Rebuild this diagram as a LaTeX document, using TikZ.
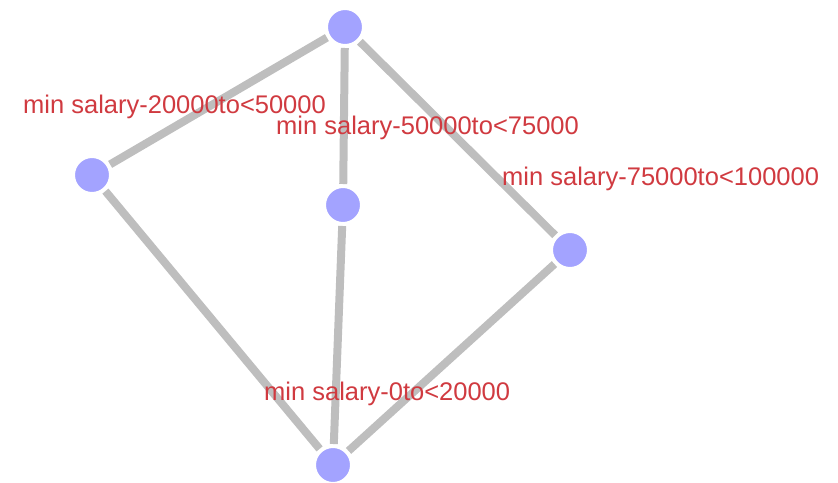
\documentclass[tikz,border=0pt]{standalone}
\usepackage{fontspec}
\setmainfont{Liberation Sans}
\usepackage{xcolor}
\definecolor{vertexblue}{RGB}{163,163,255}
\definecolor{linkgray}{RGB}{190,190,190}
\definecolor{tagred}{RGB}{208,58,64}

\begin{document}
\begin{tikzpicture}[
    x=1pt, y=-1pt,
    vertex/.style={circle, fill=vertexblue, draw=white, line width=4pt, inner sep=0pt, minimum size=38pt},
    link/.style={draw=linkgray, line width=8pt},
    tag/.style={anchor=base west, inner sep=0pt, text=tagred, font=\fontsize{25.5}{30}\selectfont}
]
  \useasboundingbox (0,0) rectangle (838,482);

  % --- VERTICES ---
  \node[vertex] (top) at (345,27) {};
  \node[vertex] (left) at (92,175) {};
  \node[vertex] (mid) at (343,205) {};
  \node[vertex] (right) at (570,250) {};
  \node[vertex] (bottom) at (333,465) {};

  % --- EDGES ---
  \draw[link] (top) -- (left);
  \draw[link] (top) -- (mid);
  \draw[link] (top) -- (right);
  \draw[link] (left) -- (bottom);
  \draw[link] (mid) -- (bottom);
  \draw[link] (right) -- (bottom);

  % --- LABELS ---
  \node[tag] (tleft) at (23,113) {min salary-20000to<50000};
  \node[tag] (tmid) at (276,134) {min salary-50000to<75000};
  \node[tag] (tright) at (502,185) {min salary-75000to<100000};
  \node[tag] (tbottom) at (264,400) {min salary-0to<20000};
\end{tikzpicture}
\end{document}
